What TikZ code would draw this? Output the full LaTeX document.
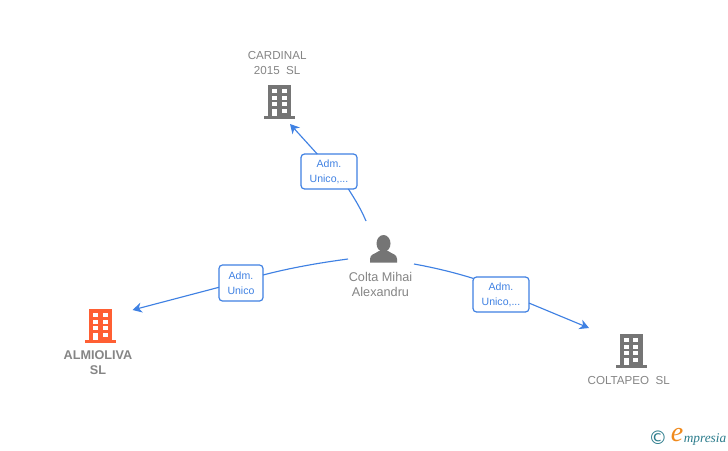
\documentclass[tikz,border=0pt]{standalone}
\usepackage{fontspec}
\setmainfont{Liberation Sans}
\newfontfamily\logofont{Liberation Serif}
\newfontfamily\copyfont{DejaVu Sans}
\usetikzlibrary{arrows.meta}
\definecolor{edgeblue}{HTML}{3F81E3}
\definecolor{labelgray}{HTML}{858585}
\definecolor{icongray}{HTML}{757575}
\definecolor{iconorange}{HTML}{FF5F33}
\definecolor{logoteal}{HTML}{2B7C8C}
\definecolor{logoorange}{HTML}{F08A1D}
\tikzset{
  x=0.75pt,y=-0.75pt,
  rolebox/.style={draw=edgeblue,line width=0.9pt,rounded corners=2.6pt,fill=white,
    text=edgeblue,font=\fontsize{7.9pt}{11.25pt}\selectfont,align=center,inner sep=0pt,outer sep=0pt},
  namelabel/.style={text=labelgray,font=\fontsize{8.7pt}{11.25pt}\selectfont,align=center,inner sep=0pt},
  link/.style={draw=edgeblue,line width=0.85pt},
  linkarrow/.style={link,-{Stealth[length=7pt,width=7.5pt,inset=2.2pt]}},
  pics/building/.style={code={
    \fill[#1] (-11.5,-17) rectangle (11.5,15);
    \fill[#1] (-15.5,13.7) rectangle (15.5,17);
    \fill[white] (-7.5,-13) rectangle (-2.6,-8.7);
    \fill[white] (2.2,-13) rectangle (7.2,-8.7);
    \fill[white] (-7.5,-6.4) rectangle (-2.6,-2.2);
    \fill[white] (2.2,-6.4) rectangle (7.2,-2.2);
    \fill[white] (-7.5,0.3) rectangle (-2.6,4.4);
    \fill[white] (2.2,0.3) rectangle (7.2,4.4);
    \fill[white] (-7.5,7) rectangle (-2.6,13.7);
    \fill[white] (2.2,7) rectangle (7.2,11);
  }}
}
\begin{document}
\begin{tikzpicture}
\useasboundingbox (0,0) rectangle (728,450);
\fill[white] (0,0) rectangle (728,450);

% icons
\pic at (279.7,102) {building=icongray};
\pic at (100.5,326) {building=iconorange};
\pic at (631.2,351) {building=icongray};
\fill[icongray] (383.5,243.5) ellipse (7 and 8.5);
\fill[icongray] (370,262.5) -- (370,259) .. controls (370,254) and (375,254) .. (379,251)
  -- (388,251) .. controls (392,254) and (397,254) .. (397,259) -- (397,262.5) -- cycle;

% labels
\node[namelabel] (cardinal) at (277.2,63.5) {CARDINAL\\2015\ \ SL};
\node[namelabel,font=\fontsize{9.5pt}{11.25pt}\selectfont\bfseries] (almioliva) at (98,362.5) {ALMIOLIVA\\SL};
\node[namelabel] (coltapeo) at (628.7,380) {COLTAPEO\ \ SL};
\node[namelabel,font=\fontsize{9.5pt}{11.25pt}\selectfont] (colta) at (380.5,284.5) {Colta Mihai\\Alexandru};

% role boxes
\node[rolebox,minimum width=42pt,minimum height=26.2pt] (b1) at (329,171.5) {\rule{0pt}{6.5pt}Adm.\\Unico,...};
\node[rolebox,minimum width=33pt,minimum height=27pt] (b2) at (241,283) {\rule{0pt}{6.5pt}Adm.\\Unico};
\node[rolebox,minimum width=42pt,minimum height=26.2pt] (b3) at (501,294.5) {\rule{0pt}{6.5pt}Adm.\\Unico,...};

% free ends
\coordinate (s1) at (366,221);
\coordinate (t1) at (290,124);
\coordinate (s2) at (348,259);
\coordinate (t2) at (132.5,310);
\coordinate (s3) at (414,264);
\coordinate (t3) at (589,328);

% connectors
\draw[link] (s1) .. controls (360,207) and (354,198) .. (b1.-42.6);
\draw[linkarrow] (b1.124.4) -- (t1);
\draw[link] (s2) .. controls (318,263) and (290,268) .. (b2.20);
\draw[linkarrow] (b2.191) -- (t2);
\draw[link] (s3) .. controls (436,268) and (456,273) .. (b3.150);
\draw[linkarrow] (b3.-17) -- (t3);

% logo
\node[inner sep=0pt,text=logoteal,font=\copyfont\fontsize{14pt}{14pt}\selectfont] (copy) at (658,438) {©};
\node[inner sep=0pt,text=logoorange,font=\logofont\itshape\fontsize{21pt}{21pt}\selectfont] (elogo) at (677,435.5) {e};
\node[inner sep=0pt,anchor=west,text=logoteal,font=\logofont\itshape\fontsize{10pt}{10pt}\selectfont] (mpresia) at (683.5,439) {mpresia};
\end{tikzpicture}
\end{document}
